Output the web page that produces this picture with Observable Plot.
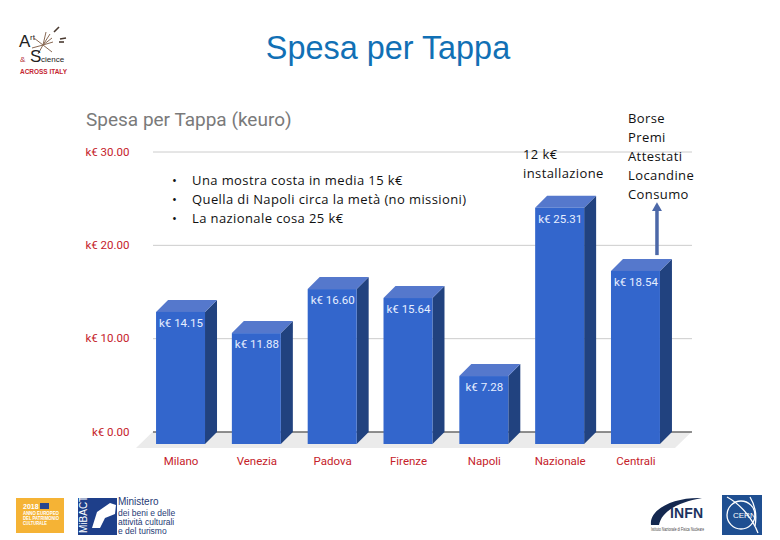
<!DOCTYPE html>
<html>
<head>
<meta charset="utf-8">
<script src="https://cdn.jsdelivr.net/npm/d3@7"></script>
<script src="https://cdn.jsdelivr.net/npm/@observablehq/plot@0.6"></script>
<style>
html,body{margin:0;padding:0;background:#fff}
#page{position:relative;width:780px;height:540px;overflow:hidden;background:#fff}
#chart{position:absolute;left:0;top:0}
.t{position:absolute;white-space:nowrap;margin:0}
#main{left:0;width:776px;top:29px;text-align:center;font:32.4px "Liberation Sans",Arial,sans-serif;color:#1170b5;line-height:38px}
#sub{left:86px;top:108px;font:19px Roboto,sans-serif;color:#7a7a7a;line-height:24px}
.note{font:13px "Open Sans",sans-serif;color:#111;line-height:19px;letter-spacing:.4px}
#bul{left:172px;top:171px}
#bul span{display:inline-block;width:20px}
#inst{left:523px;top:145px}
#extra{left:628px;top:109px}
#logos{position:absolute;left:0;top:0}
</style>
</head>
<body>
<div id="page">
<div id="chart"></div>
<h1 class="t" id="main" style="font-weight:normal">Spesa per Tappa</h1>
<div class="t" id="sub">Spesa per Tappa (keuro)</div>
<div class="t note" id="bul"></div>
<div class="t note" id="inst"></div>
<div class="t note" id="extra"></div>
<svg id="logos" width="780" height="540" style="pointer-events:none">
  <g font-family="'Liberation Sans',sans-serif">
    <text x="19" y="47" font-size="17" fill="#222">A</text>
    <text x="30" y="40" font-size="8" fill="#222">rt</text>
    <g stroke="#8a6a55" stroke-width="1">
      <line x1="43" y1="45" x2="50" y2="34"/><line x1="43" y1="45" x2="52" y2="38"/>
      <line x1="43" y1="45" x2="53" y2="42"/><line x1="43" y1="45" x2="34" y2="38"/>
      <line x1="43" y1="45" x2="52" y2="52"/><line x1="43" y1="45" x2="38" y2="54"/>
      <line x1="43" y1="45" x2="46" y2="32"/><line x1="43" y1="45" x2="32" y2="48"/>
    </g>
    <g stroke="#4a3a30" stroke-width="1.6">
      <line x1="54" y1="32" x2="59" y2="27"/><line x1="60" y1="39" x2="66" y2="38"/><line x1="59" y1="42" x2="64" y2="42"/>
    </g>
    <text x="30" y="62" font-size="17" fill="#222">S</text>
    <text x="20" y="62" font-size="8" fill="#b5303a">&amp;</text>
    <text x="41" y="62" font-size="8" fill="#222">cience</text>
    <text x="20" y="74" font-size="8" font-weight="bold" fill="#c42530" textLength="47" lengthAdjust="spacingAndGlyphs">ACROSS ITALY</text>

    <rect x="16" y="498" width="48" height="35" fill="#f5b335"/>
    <rect x="40" y="503" width="9" height="6" fill="#27458f"/>
    <g fill="#fff" font-size="5" font-weight="bold">
      <text x="23" y="509" font-size="7">2018</text>
      <text x="23" y="515" textLength="36" lengthAdjust="spacingAndGlyphs">ANNO EUROPEO</text>
      <text x="23" y="520" textLength="36" lengthAdjust="spacingAndGlyphs">DEL PATRIMONIO</text>
      <text x="23" y="525" textLength="24" lengthAdjust="spacingAndGlyphs">CULTURALE</text>
    </g>

    <rect x="78" y="498" width="39" height="37" fill="#1e3f8a"/>
    <path d="M92 528 L97 512 L110 503 L116 505 L115 514 L105 518 L100 528 Z" fill="#fff"/>
    <text transform="translate(87 533) rotate(-90)" font-size="10" fill="#fff">MiBACT</text>
    <g fill="#1f3b75" font-size="8.5">
      <text x="118" y="505" font-size="10">Ministero</text>
      <text x="118" y="516">dei beni e delle</text>
      <text x="118" y="525">attività culturali</text>
      <text x="118" y="534">e del turismo</text>
    </g>

    <path d="M651 525 C649 510 672 497 702 498 C680 502 662 510 659 525 Z" fill="#14284f"/>
    <text x="670" y="518" font-size="14" font-weight="bold" fill="#1d3360" textLength="33">INFN</text>
    <text x="651" y="531" font-size="5.2" fill="#444" textLength="53" lengthAdjust="spacingAndGlyphs">Istituto Nazionale di Fisica Nucleare</text>

    <rect x="722" y="495" width="40" height="40" fill="#1f4f91"/>
    <g fill="none" stroke="#fff" stroke-width="1.3">
      <circle cx="741" cy="515" r="14"/>
      <path d="M727 497 C742 505 753 520 758 533"/>
      <path d="M750 497 C755 505 757 515 755 526"/>
    </g>
    <text x="733" y="518" font-size="8" fill="#fff">CERN</text>
  </g>
</svg>
</div>
<script>
const tappe = ["Milano","Venezia","Padova","Firenze","Napoli","Nazionale","Centrali"];
const spesa = [14.15,11.88,16.60,15.64,7.28,25.31,18.54];
const yTicks = [0,10,20,30];
const bulletLines = ["Una mostra costa in media 15 k€","Quella di Napoli circa la metà (no missioni)","La nazionale cosa 25 k€"];
const installLines = ["12 k€","installazione"];
const extraLines = ["Borse","Premi","Attestati","Locandine","Consumo"];
const arrowFrom = 18.9, arrowShaftTo = 23.7, arrowHead = 24.0;

document.getElementById("bul").innerHTML = bulletLines.map(s=>`<div><span>•</span>${s}</div>`).join("");
document.getElementById("inst").innerHTML = installLines.map(s=>`<div>${s}</div>`).join("");
document.getElementById("extra").innerHTML = extraLines.map(s=>`<div>${s}</div>`).join("");

const rows = tappe.map((tappa,i)=>({tappa,valore:spesa[i]}));
const DROP = 12.5, D = 12;
const RED = "#c5222a";

// 3D faces: take the library's bar rects and turn each into a face polygon
const face = shape => (index, scales, values, dims, ctx, next) => {
  const g = next(index, scales, values, dims, ctx);
  d3.select(g).selectAll("rect").each(function(){
    const r = d3.select(this);
    const x=+r.attr("x"), y=+r.attr("y"), w=+r.attr("width"), h=+r.attr("height");
    const path = document.createElementNS("http://www.w3.org/2000/svg","path");
    path.setAttribute("d", shape(x,y,w,h));
    this.replaceWith(path);
  });
  return g;
};
const sideFace = (x,y,w,h)=>`M${x+w},${y}L${x+w+D},${y-D}V${y+h-D}L${x+w},${y+h}Z`;
const topFace  = (x,y,w,h)=>`M${x},${y}L${x+D},${y-D}H${x+w+D}L${x+w},${y}Z`;

const floor = (index, {y}, values, {width, marginLeft, marginRight}) => {
  const p = d3.create("svg:path");
  const y0 = y(0);
  p.attr("d",`M${marginLeft},${y0}H${width-marginRight}L${width-marginRight-17},${y0+16.5}H${marginLeft-17}Z`).attr("fill","#ebebeb");
  return p.node();
};

const chart = Plot.plot({
  width:780, height:540,
  marginLeft:153, marginRight:88, marginTop:151.5, marginBottom:108.5,
  style:{fontFamily:"Roboto, sans-serif", background:"transparent"},
  x:{type:"band", domain:tappe, range:[129.2,686.8], padding:0.354, round:false, label:null},
  y:{domain:[0,30], label:null},
  marks:[
    Plot.ruleY(yTicks.filter(d=>d>0),{stroke:"#cccccc",strokeOpacity:1}),
    floor,
    Plot.ruleY([0],{stroke:"#2a2a2a",strokeOpacity:1,strokeWidth:1.2}),
    Plot.barY(rows,{x:"tappa",y:"valore",fill:"#21427f",dy:DROP,render:face(sideFace)}),
    Plot.barY(rows,{x:"tappa",y:"valore",fill:"#5578cc",dy:DROP,render:face(topFace)}),
    Plot.barY(rows,{x:"tappa",y:"valore",fill:"#3366cc",dy:DROP}),
    Plot.text(rows,{x:"tappa",y:"valore",text:d=>`k€ ${d.valore.toFixed(2)}`,dy:DROP+11,fill:"#e6eeff",fontSize:11.5}),
    Plot.ruleX([{a:arrowFrom,b:arrowShaftTo}],{x:()=>"Centrali",y1:"a",y2:"b",dx:21,stroke:"#4c68a8",strokeWidth:3.5,strokeOpacity:1}),
    Plot.dot([arrowHead],{x:()=>"Centrali",y:d=>d,dx:21,symbol:"triangle",r:3.7,fill:"#4c68a8",stroke:null}),
    Plot.axisY(yTicks,{anchor:"left",tickSize:0,tickPadding:24,tickFormat:d=>`k€ ${d.toFixed(2)}`,label:null,fill:RED,fontSize:11.5}),
    Plot.axisX({anchor:"bottom",tickSize:0,tickPadding:25,label:null,fill:RED,fontSize:11.5})
  ]
});
document.getElementById("chart").appendChild(chart);
</script>
</body>
</html>
